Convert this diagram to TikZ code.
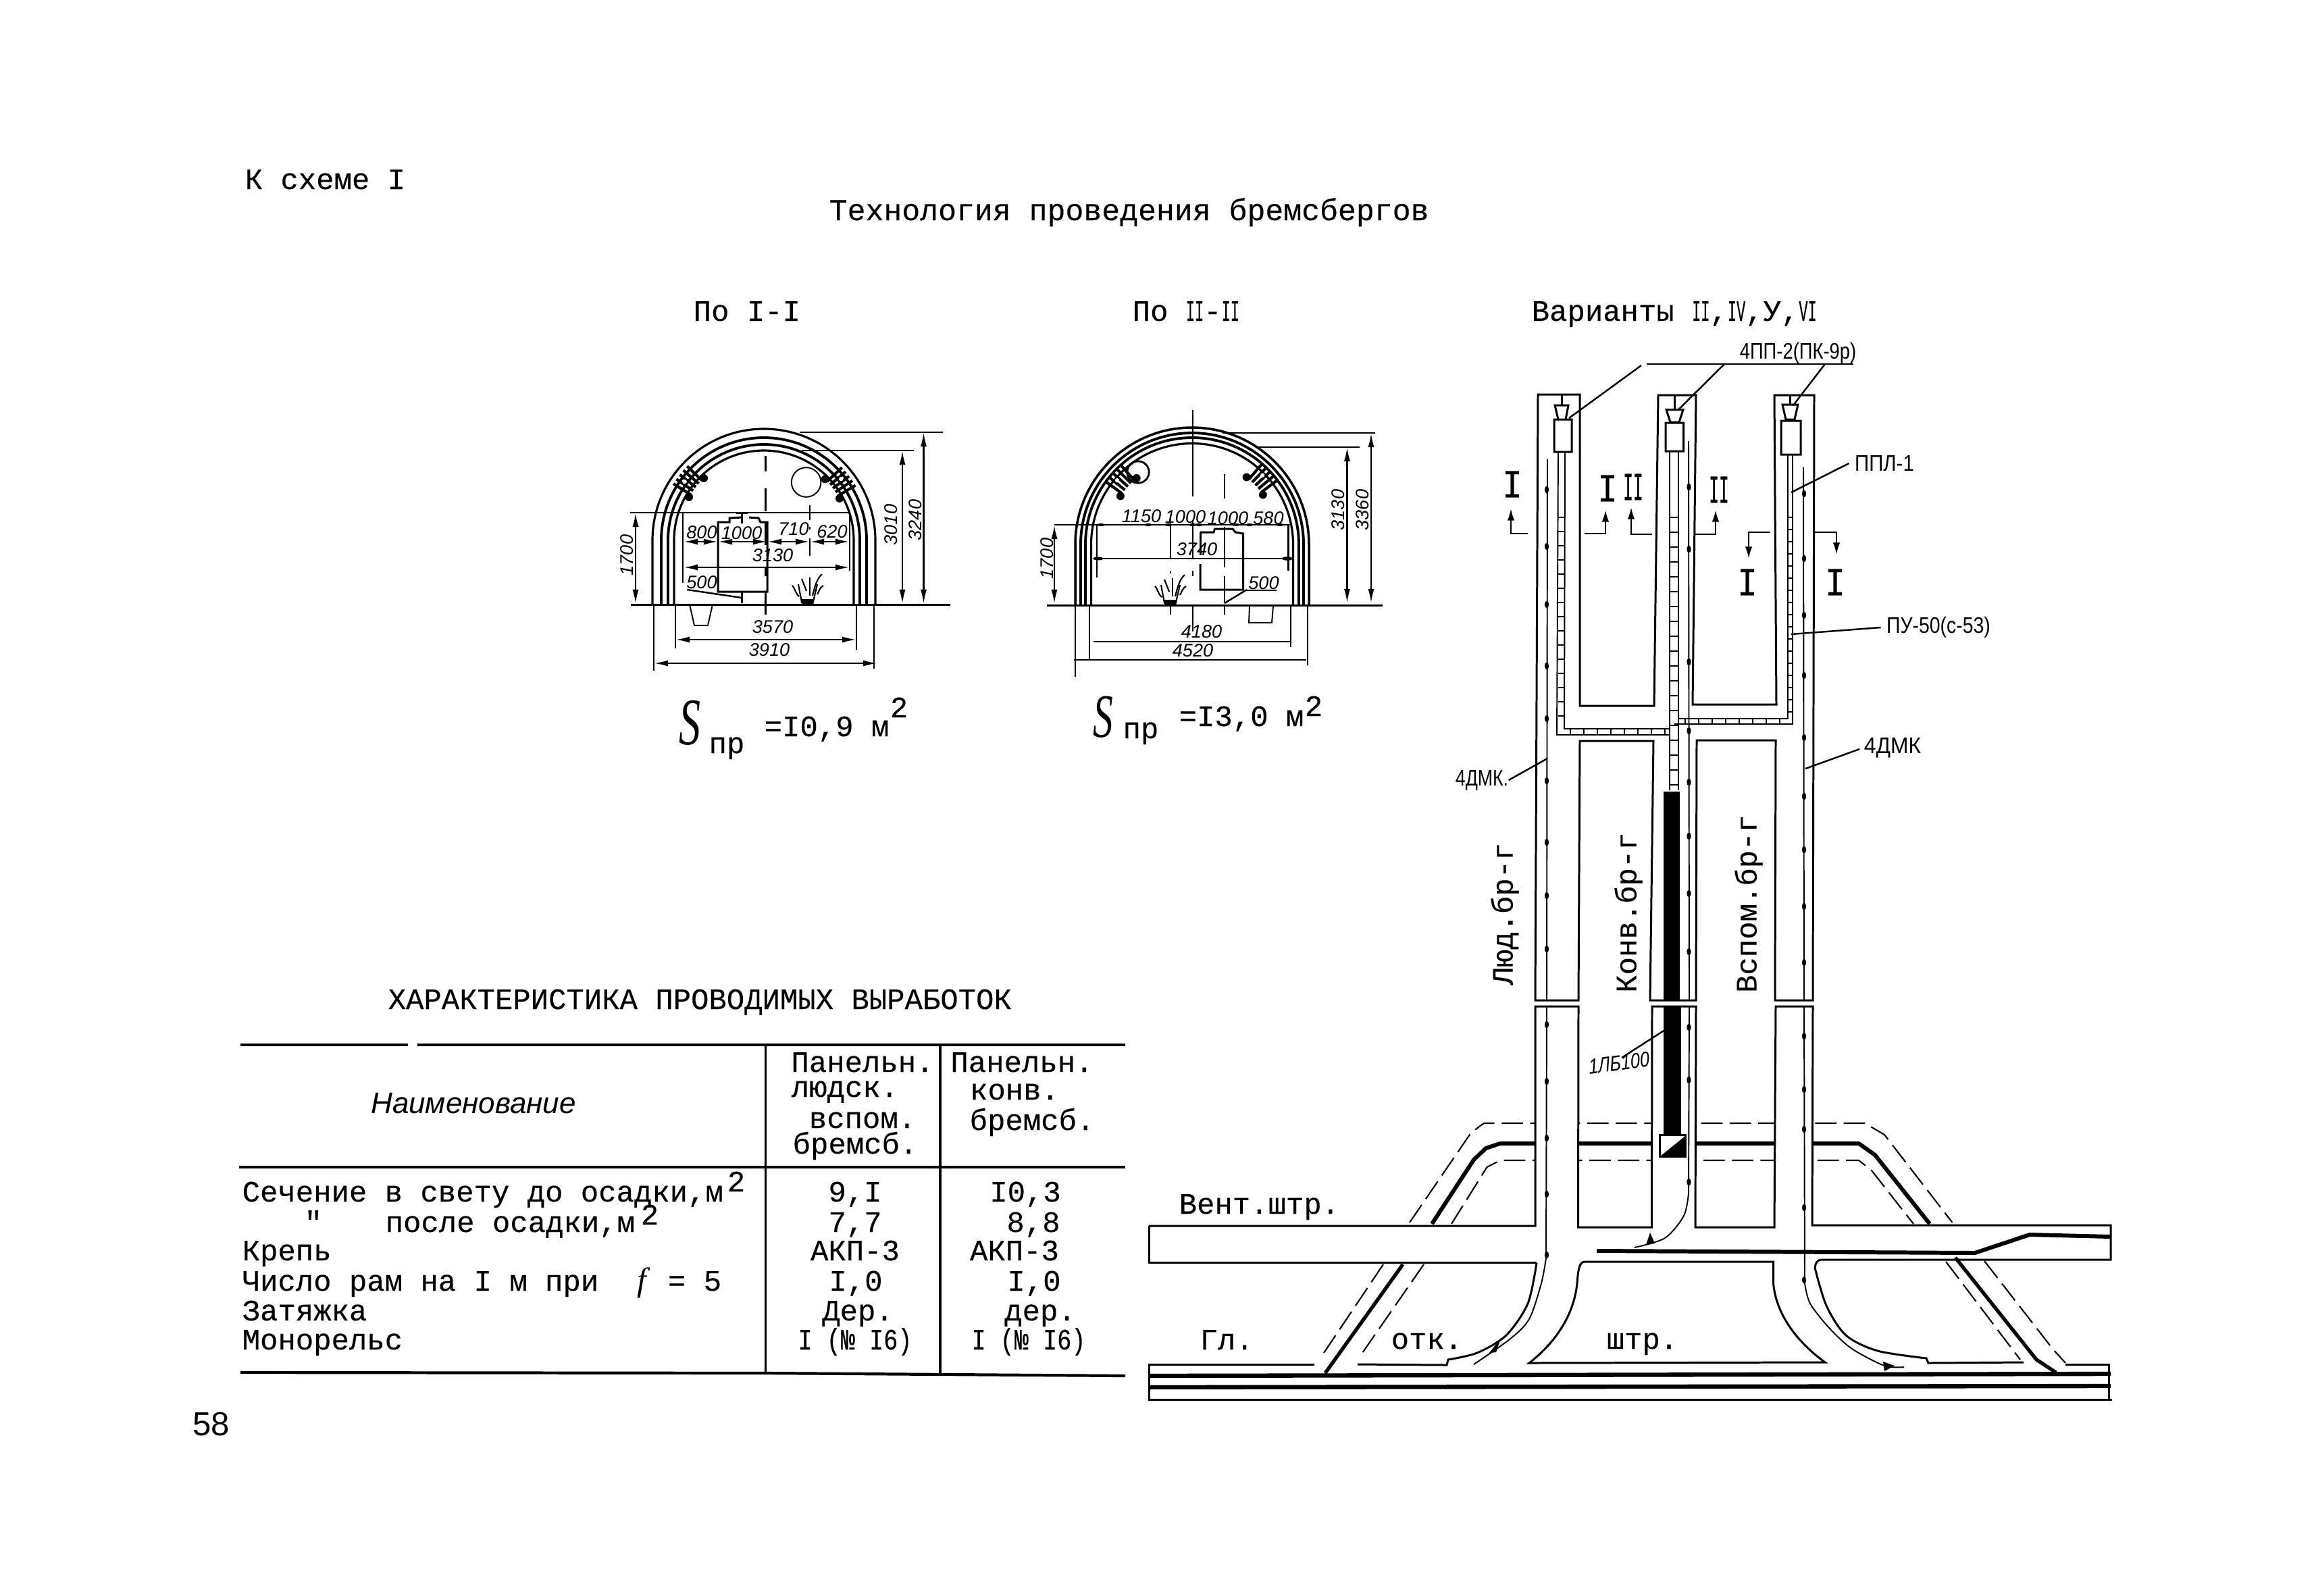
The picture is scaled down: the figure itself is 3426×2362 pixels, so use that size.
\documentclass[tikz,border=0pt]{standalone}
\usepackage{graphicx}
\usepackage{fontspec}
\setmainfont{Liberation Mono}
\newfontfamily\monof[FakeBold=0.25]{Liberation Mono}
\newfontfamily\sansf{Liberation Sans}
\newfontfamily\serff{Liberation Serif}
\usetikzlibrary{arrows.meta}
\newcommand\mono{\monof\fontsize{12.5}{15}\selectfont}
\newcommand\cmp[1]{\scalebox{.5}[1]{#1}}
\newcommand\archline[5]{\draw[#5] ({#1-#3},#4) -- ({#1-#3},#2) arc[start angle=180,end angle=0,radius=#3*0.01cm] -- ({#1+#3},#4);}
\newcommand\bucket[2]{%
 \begin{scope}[shift={(#1,#2)},line width=.6pt]
 \draw (-12,-10) -- (-7,17) -- (9,20) -- (16,-10);
 \draw (-21,-8) .. controls (-17,-4) and (-15,6) .. (-11,8);
 \draw (25,-8) .. controls (20,-6) and (18,2) .. (16,5);
 \draw (-7,-18) -- (0,0);
 \draw (23,-25) .. controls (15,-18) and (12,-5) .. (9,7);
 \draw (5,-20) -- (5,7);
 \fill (-8,12) -- (11,12) -- (9,20) -- (-6,19) -- cycle;
 \end{scope}}
\newcommand\hardware[3]{%
 \begin{scope}[shift={(#1,#2)}]
 \foreach \a in {-6,-3,0,3,6}{
  \draw[line width=1.2pt] ({#3+\a}:128) -- ({#3+\a}:158);}
 \fill[white] ({#3-1.5}:146) circle (.9pt);
 \fill ({#3-8}:128) circle (1.7pt) ({#3+8}:128) circle (1.7pt);
 \end{scope}}
\tikzset{
 x=0.01cm,y=-0.01cm,
 >={Latex[length=6pt,width=2.6pt]},
 dimline/.style={line width=.7pt},
 wall/.style={line width=.85pt},
 thin line/.style={line width=.55pt},
 track/.style={line width=1.5pt,line join=round},
 hidden/.style={line width=.6pt,dash pattern=on 9pt off 3pt},
 mt/.style={font=\mono,inner sep=0,anchor=base west},
 mc/.style={font=\mono,inner sep=0,anchor=base},
 rot/.style={font=\mono,inner sep=0,rotate=90},
 dimtxt/.style={font=\sansf\itshape\fontsize{7.7}{9}\selectfont,inner sep=0},
 hand/.style={font=\sansf\fontsize{9.5}{11}\selectfont,inner sep=0,xscale=#1,transform shape},
 secmark/.style={font=\monof\fontsize{14}{16}\selectfont,inner sep=0,yscale=1.2,transform shape},
 secarrow/.style={line width=.7pt,-{Latex[length=5pt,width=3pt]}},
 supr/.style={font=\monof\fontsize{12.5}{15}\selectfont,inner sep=0,anchor=base},
}
\begin{document}
\begin{tikzpicture}
\useasboundingbox (0,0) rectangle (3426,2362);
\fill[white] (0,0) rectangle (3426,2362);

% page texts
\node[mt] (schema) at (362,280) {К схеме I};
\node[mt,font=\monof\fontsize{12.75}{15}\selectfont] (title) at (1227,326) {Технология проведения бремсбергов};
\node[mt] (p1) at (1026,475) {По I-I};
\node[mt] (p2) at (1676,475) {По \cmp{II}-\cmp{II}};
\node[mt] (var) at (2267,475) {Варианты \cmp{II},\cmp{IV},У,\cmp{VI}};
\node[font=\sansf\fontsize{14}{16}\selectfont,inner sep=0] (page) at (313,2109) {58};

% ===== Section I =====
\archline{1131}{800}{165}{895}{line width=.9pt}
\archline{1131}{800}{152}{895}{line width=1.1pt}
\archline{1131}{800}{142}{895}{line width=1.1pt}
\archline{1131}{800}{133}{895}{line width=.9pt}
\hardware{1131}{800}{-142}
\hardware{1131}{800}{-37}
\draw[wall] (934,895) -- (1407,895);
\draw[dimline] (1184,640) -- (1396,640);
\draw[dimline] (1187,667) -- (1353,667);
\draw[dimline,<->] (1367.5,640) -- (1367.5,894);
\draw[dimline,<->] (1336,667) -- (1336,894);
\draw[dimline] (933,759) -- (1258,759);
\draw[dimline,<->] (941,759) -- (941,894);
\draw[dimline] (1133.6,675) -- (1133.6,698) (1133.6,723) -- (1133.6,757) (1133.6,840) -- (1133.6,853) (1133.6,877) -- (1133.6,910);
\draw[wall] (1133.6,773) -- (1133.6,807);
\draw[thin line] (1193.6,714) circle (6.2pt);
\draw[dimline] (1011,759) -- (1011,863);
\draw[dimline] (1258,757) -- (1258,845);
\draw[dimline,<->] (1012,802) -- (1063,802);
\draw[dimline,<->] (1063,802) -- (1136,802);
\draw[dimline,<->] (1136,802) -- (1199,802);
\draw[dimline,<->] (1199,802) -- (1258,802);
\draw[dimline,<->] (1012,840) -- (1258,840);
\draw[wall] (1098,766) -- (1080,767) -- (1080,773) -- (1063,773) -- (1063,876) -- (1136,876) -- (1136,773) -- (1126,773) -- (1123,767) -- (1109,766);
\draw[dimline] (1098.6,760) -- (1098.6,775) (1090,760) -- (1107,760);
\draw[dimline] (1098.6,876) -- (1098.6,893);
\draw[dimline] (1017,873) -- (1098,885);
\draw[dimline] (1199,748) -- (1199,770) (1199,797) -- (1199,823) (1199,780) -- (1199,784);
\draw[thin line] (1021,895) -- (1028,926) -- (1048,926) -- (1055,895);
\bucket{1194}{875}
\draw[dimline] (1000,895) -- (1000,960) (1268,895) -- (1268,962);
\draw[dimline,<->] (1000,947) -- (1268,947);
\draw[dimline] (968,895) -- (968,993) (1294,895) -- (1294,990);
\draw[dimline,<->] (968,982) -- (1299,982);
\node[dimtxt,rotate=90] (d3240) at (1355,770) {3240};
\node[dimtxt,rotate=90] (d3010) at (1319,777) {3010};
\node[dimtxt,rotate=90] (d1700a) at (928,822) {1700};
\node[dimtxt] (d800) at (1039,788) {800};
\node[dimtxt] (d1000) at (1098,789) {1000};
\node[dimtxt] (d710) at (1175,783) {710};
\node[dimtxt] (d620) at (1232,787) {620};
\node[dimtxt] (d3130) at (1144,822) {3130};
\node[dimtxt] (d500a) at (1039,862) {500};
\node[dimtxt] (d3570) at (1144,928) {3570};
\node[dimtxt] (d3910) at (1139,962) {3910};
\node[font=\serff\itshape\fontsize{28}{30}\selectfont,inner sep=0,xscale=.65,transform shape] (s1) at (1021,1070) {S};
\node[mc] (pr1) at (1076,1115) {пр};
\node[mt] (v1) at (1131,1090) {=I0,9 м};
\node[supr] (sq1) at (1331,1062) {2};

% ===== Section II =====
\archline{1765}{806}{173}{896}{line width=1pt}
\archline{1765}{806}{165}{896}{line width=1.1pt}
\archline{1765}{806}{158}{896}{line width=1.1pt}
\archline{1765}{806}{149.5}{896}{line width=.9pt}
\hardware{1765}{806}{-138}
\hardware{1765}{806}{-43}
\draw[wall] (1550,896) -- (2047,896);
\draw[dimline] (1810,641) -- (2036,641);
\draw[dimline] (1862,662) -- (2013,662);
\draw[dimline,<->] (2030,641) -- (2030,893);
\draw[dimline,<->] (1994.5,662) -- (1994.5,893);
\draw[dimline] (1561,777) -- (1911,777);
\draw[dimline,<->] (1561,777) -- (1561,894);
\draw[dimline] (1766,607) -- (1766,735) (1766,770) -- (1766,827) (1766,845) -- (1766,853) (1766,895) -- (1766,935);
\draw[dimline] (1624,777) -- (1624,855);
\draw[dimline] (1907.6,777) -- (1907.6,845);
\draw[dimline] (1626,827) -- (1906,827);
\fill (1626,827) ellipse[x radius=2.2pt,y radius=.7pt] (1906,827) ellipse[x radius=2.2pt,y radius=.8pt];
\foreach \x in {1630,1700,1730,1766,1775,1830,1850,1895}{\fill (\x,777) ellipse[x radius=1.6pt,y radius=.6pt];}
\draw[wall] (1777,788) -- (1797,788) -- (1798.5,783) -- (1825,783) -- (1829,788) -- (1840.6,790) -- (1840.6,873) -- (1777,873) -- (1777,835);
\draw[wall] (1777,788) -- (1777,822);
\draw[dimline] (1846,873) -- (1813,893);
\draw[dimline] (1846,874) -- (1890,874);
\draw[dimline] (1813,702) -- (1813,738) (1813,780) -- (1813,840) (1813,853) -- (1813,893) (1813,897) -- (1813,910);
\draw[dimline] (1733,765) -- (1733,827) (1733,846) -- (1733,849) (1733,895) -- (1733,910);
\draw[line width=.8pt] (1685,699) circle (4.6pt);
\bucket{1731}{876}
\draw[thin line] (1850,897) -- (1849,922) -- (1883,922) -- (1885,897);
\draw[dimline] (1613,896) -- (1613,977) (1911,896) -- (1911,958);
\draw[dimline] (1619,950) -- (1911,950);
\draw[dimline] (1592,896) -- (1592,1002) (1936,896) -- (1936,985);
\draw[dimline] (1590,977) -- (1934,977);
\node[dimtxt,rotate=90] (d3360) at (2017,755) {3360};
\node[dimtxt,rotate=90] (d3130b) at (1981.5,755) {3130};
\node[dimtxt,rotate=90] (d1700b) at (1550,827) {1700};
\node[dimtxt] (d1150) at (1690,764) {1150};
\node[dimtxt] (d1000b) at (1755,765) {1000};
\node[dimtxt] (d1000c) at (1818,767) {1000};
\node[dimtxt] (d580) at (1878,767) {580};
\node[dimtxt] (d3740) at (1772,813) {3740};
\node[dimtxt] (d500b) at (1871,863) {500};
\node[dimtxt] (d4180) at (1779,935) {4180};
\node[dimtxt] (d4520) at (1766,963) {4520};
\node[font=\serff\itshape\fontsize{26}{28}\selectfont,inner sep=0,xscale=.65,transform shape] (s2) at (1633,1062) {S};
\node[mc] (pr2) at (1689,1093) {пр};
\node[mt] (v2) at (1745,1075) {=I3,0 м};
\node[supr] (sq2) at (1945,1060) {2};

% ===== Table =====
\node[mt] (ttl) at (574,1494) {ХАРАКТЕРИСТИКА ПРОВОДИМЫХ ВЫРАБОТОК};
\draw[line width=1.2pt] (356,1547) -- (604,1547) (618,1547) -- (1666,1547);
\draw[line width=1.2pt] (354,1728) -- (1666,1728);
\draw[line width=1.2pt] (356,2032) -- (1133,2033) -- (1666,2037);
\draw[line width=.9pt] (1133.5,1547) -- (1133.5,2034) (1392,1547) -- (1392,2035);
\node[font=\sansf\itshape\fontsize{12.5}{15}\selectfont,inner sep=0] (hdr) at (701,1634) {Наименование};
\node[mc] (h1) at (1277,1587) {Панельн.};
\node[mc] (h2) at (1251,1624) {людск.};
\node[mc] (h3) at (1277,1670) {вспом.};
\node[mc] (h4) at (1266,1708) {бремсб.};
\node[mc] (h5) at (1513,1587) {Панельн.};
\node[mc] (h6) at (1502,1628) {конв.};
\node[mc] (h7) at (1528,1673) {бремсб.};
\node[mt] (r1) at (358,1779) {Сечение в свету до осадки,м};
\node[supr] (r1s) at (1090,1764) {2};
\node[mt] (r2q) at (450,1824) {"};
\node[mt] (r2) at (570,1824) {после осадки,м};
\node[supr] (r2s) at (962,1813) {2};
\node[mt] (r3) at (358,1866) {Крепь};
\node[mt] (r4) at (358,1911) {Число рам на I м при};
\node[mc,font=\serff\itshape\fontsize{14}{16}\selectfont] (r4f) at (950,1911) {f};
\node[mc] (r4e) at (1002,1911) {=};
\node[mc] (r4v) at (1055,1911) {5};
\node[mt] (r5) at (358,1955) {Затяжка};
\node[mt] (r6) at (358,1998) {Монорельс};
\node[mc] (a1) at (1266,1779) {9,I};
\node[mc] (a2) at (1266,1824) {7,7};
\node[mc] (a3) at (1266,1866) {АКП-3};
\node[mc] (a4) at (1267,1911) {I,0};
\node[mc] (a5) at (1270,1955) {Дер.};
\node[mc,xscale=.8,transform shape] (a6) at (1266,1998) {I (№ I6)};
\node[mc] (b1) at (1518,1779) {I0,3};
\node[mc] (b2) at (1530,1824) {8,8};
\node[mc] (b3) at (1502,1866) {АКП-3};
\node[mc] (b4) at (1531,1911) {I,0};
\node[mc] (b5) at (1540,1955) {дер.};
\node[mc,xscale=.8,transform shape] (b6) at (1523,1998) {I (№ I6)};

% ===== Plan: hidden + tracks =====
\draw[hidden] (2087,1810) -- (2178,1677) -- (2197,1663) -- (2761,1663) -- (2790,1680) -- (2890.5,1810);
\draw[hidden] (2149,1812) -- (2201.5,1728) -- (2221,1718) -- (2752,1718) -- (2771,1733) -- (2833,1812);
\draw[track,line width=1.7pt] (2120,1812) -- (2182,1717) -- (2200,1700) -- (2221,1693) -- (2752,1693) -- (2776,1710) -- (2857,1812);
\fill[white] (2273,1600) rectangle (2337,1815) (2445,1600) rectangle (2510,1815) (2627,1600) rectangle (2683,1815);
\draw[hidden] (2048,1872) -- (1960,2003);
\draw[hidden] (2108,1872) -- (2017,2003);
\draw[hidden] (2938,1867) -- (3039,1997) -- (3058,2018);
\draw[hidden] (2881,1868) -- (2991,2013);
\draw[track] (2077,1872) -- (1962,2033);
\draw[track] (2895,1862) -- (3015,2013) -- (3044,2032);

% channel walls, upper part
\draw[wall] (2339,1045) -- (2339,584) -- (2277,584) -- (2273,1481) -- (2337,1481) -- (2339,1097) -- (2448,1097) -- (2443,1481) -- (2511,1481) -- (2512,1096) -- (2629,1096) -- (2628,1481) -- (2684,1481) -- (2686,585) -- (2627,585) -- (2630,1043) -- (2506,1043) -- (2511,585) -- (2455,585) -- (2449,1045) -- cycle;
% channel walls, lower part
\draw[wall] (1701,1815) -- (2273,1815) -- (2273,1490) -- (2337,1490) -- (2336.5,1817) -- (2445.5,1817) -- (2446,1490) -- (2511,1490) -- (2510,1817) -- (2627,1817) -- (2629,1490) -- (2684,1490) -- (2683,1814) -- (3125,1814) -- (3125,1865) -- (2698,1865) .. controls (2690,1865) and (2688,1870) .. (2687,1877) plot[smooth] coordinates {(2687,1877) (2704,1933) (2733,1977) (2780,2000) (2852,2011)} -- (2855,2018) -- (2996,2017);
\draw[wall] (1701,1815) -- (1701,1869) -- (2275,1869);
\draw[wall] plot[smooth] coordinates {(2275,1870) (2262,1930) (2230,1977) (2187,2003) (2144,2013)} -- (2142,2021) -- (2010,2020);
\draw[wall] (2625.5,1900) -- (2625.5,1868) -- (2348,1868) .. controls (2340,1868) and (2337,1872) .. (2335,1900) .. controls (2330,1950) and (2300,1990) .. (2264,2018) -- (2702,2017) .. controls (2665,1990) and (2630,1950) .. (2625.5,1900);
% main drift
\draw[wall] (1946,2020) -- (1701,2020) -- (1701,2072) -- (3127,2072);
\draw[wall] (3058,2020) -- (3122,2020) -- (3122,2072);
\draw[line width=1.8pt] (1701,2037) -- (3125,2034);
\draw[line width=1.8pt] (1701,2054) -- (3125,2052);
\draw[line width=1.7pt] (2364,1852) -- (2924,1855) -- (3005,1828) -- (3125,1831);

% cables
\draw[thin line] (2291,680) -- (2290,1481) (2290,1490) -- (2289,1863);
\draw[thin line] plot[smooth] coordinates {(2289,1863) (2282,1900) (2264,1953) (2235,1983) (2182,2020)};
\draw[thin line] (2670,692) -- (2671,1481) (2671,1490) -- (2672,1900);
\draw[thin line] plot[smooth] coordinates {(2672,1900) (2680,1930) (2709,1967) (2742,1997) (2790,2022) (2819,2024)};
\draw[thin line] (2500,653) -- (2501,1481) (2501,1490) -- (2500,1767);
\draw[thin line] plot[smooth] coordinates {(2500,1767) (2493,1800) (2465,1833) (2420,1847)};
\foreach \y in {725,809,895,986,1064,1156,1247,1326,1405,1517,1601,1685,1768,1858}{\fill (2290,\y) ellipse[x radius=.9pt,y radius=1.5pt];}
\foreach \y in {731,827,911,1000,1092,1179,1258,1342,1425,1534,1613,1672,1788,1895}{\fill (2671,\y) ellipse[x radius=.9pt,y radius=1.5pt];}
\foreach \y in {721,813,980,1082,1158,1238,1323,1409,1521,1599,1750}{\fill (2500.5,\y) ellipse[x radius=.9pt,y radius=1.5pt];}
\fill (2205,2003) -- (2222,1981) -- (2215,2002) -- cycle;
\fill (2450,1841) -- (2443,1825) -- (2437,1843) -- cycle;
\fill (2788,2016) -- (2805,2022) -- (2790,2030) -- cycle;

% ladders
\begin{scope}[thin line]
\draw (2307,668) -- (2305,1088) -- (2472,1088) (2317,668) -- (2316,1079) -- (2472,1079);
\foreach \y in {766,787,...,1075}{\draw[line width=.8pt] (2307,\y) -- (2317,\y);}
\foreach \x in {2325,2345,...,2465}{\draw[line width=.8pt] (\x,1079) -- (\x,1088);}
\draw (2472,668) -- (2472,1170) (2485,668) -- (2485,1170);
\foreach \y in {766,788,...,1165}{\draw[line width=.8pt] (2472,\y) -- (2485,\y);}
\draw (2647,672) -- (2647,1064) -- (2485,1064) (2654,672) -- (2654,1072) -- (2479,1072);
\foreach \y in {766,784,...,1060}{\draw[line width=.7pt] (2647,\y) -- (2654,\y);}
\foreach \x in {2495,2515,...,2645}{\draw[line width=.8pt] (\x,1064) -- (\x,1072);}
\end{scope}

% devices
\draw[wall] (2312,585) -- (2312,600);
\draw[wall] (2302,600) -- (2322,600) -- (2318,621) -- (2307,621) -- cycle (2301,621) rectangle (2327,669);
\draw[wall] (2479,585) -- (2479,606);
\draw[wall] (2467,606.5) -- (2492,606.5) -- (2486,625) -- (2473,625) -- cycle (2466,626) rectangle (2492.6,668);
\draw[wall] (2650,585) -- (2650,599);
\draw[wall] (2639,599) -- (2662,599) -- (2657,621) -- (2644,621) -- cycle (2637,623) rectangle (2666,673);

% conveyor
\fill (2463,1172) rectangle (2487,1480);
\fill (2463,1490) rectangle (2489,1680);
\draw[wall,fill=white] (2457,1680) rectangle (2495,1712);
\fill (2495,1682) -- (2495,1712) -- (2458,1712) -- cycle;

% section marks
\draw[secarrow] (2262,790) -- (2237,790) -- (2237,753);
\draw[secarrow] (2346,790) -- (2377,790) -- (2377,755);
\draw[secarrow] (2446,791) -- (2415,791) -- (2415,751);
\draw[secarrow] (2508,791) -- (2540,791) -- (2540,755);
\draw[secarrow] (2621,788) -- (2589,788) -- (2589,827);
\draw[secarrow] (2686,788) -- (2719,788) -- (2719,821);
\node[secmark] (m1) at (2239,717) {I};
\node[secmark] (m2) at (2380,723) {I};
\node[secmark] (m3) at (2418,721) {\cmp{II}};
\node[secmark] (m4) at (2545,725) {\cmp{II}};
\node[secmark] (m5) at (2587,862) {I};
\node[secmark] (m6) at (2717,862) {I};

% leaders + labels
\node[hand=.82] (pp) at (2662,523) {4ПП-2(ПК-9р)};
\draw[dimline] (2438,539) -- (2744,539);
\coordinate (ppa) at (2430,541);
\draw[dimline] (ppa) -- (2323,619);
\draw[dimline] (2553,539) -- (2485,606.5);
\draw[dimline] (2702,539) -- (2655,600);
\node[hand=.88] (ppl) at (2790,686) {ППЛ-1};
\draw[dimline] (ppl.west) ++(-8,0) -- (2652,729);
\node[hand=.85] (pu) at (2870,929) {ПУ-50(с-53)};
\draw[dimline] (pu.west) ++(-8,0) -- (2652,939);
\node[hand=.95] (dmkr) at (2802,1107) {4ДМК};
\draw[dimline] (dmkr.west) ++(-6,2) -- (2673,1138);
\node[hand=.8] (dmkl) at (2194,1155) {4ДМК.};
\draw[dimline] (dmkl.east) -- (2291,1123);
\node[font=\sansf\itshape\fontsize{9}{11}\selectfont,inner sep=0,xscale=.8,rotate=6,transform shape] (lb) at (2397,1574) {1ЛБ100};
\draw[dimline] (2401,1566) -- (2464,1525.5);

% drift labels
\node[rot] (lyud) at (2228,1353) {Люд.бр-г};
\node[rot] (konv) at (2411,1351) {Конв.бр-г};
\node[rot] (vsp) at (2589,1338) {Вспом.бр-г};
\node[mt] (vent) at (1745,1797) {Вент.штр.};
\node[mt] (gl) at (1776,1998) {Гл.};
\node[mt] (otk) at (2059,1997) {отк.};
\node[mt] (shtr) at (2378,1997) {штр.};
\end{tikzpicture}
\end{document}
